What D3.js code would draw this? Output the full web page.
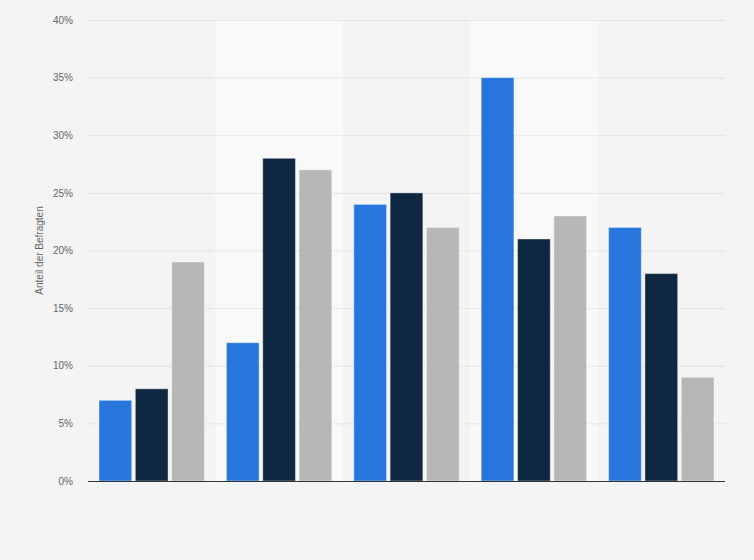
<!DOCTYPE html>
<html>
<head>
<meta charset="utf-8">
<script src="https://cdn.jsdelivr.net/npm/d3@7"></script>
<style>
  body { margin: 0; background: #f4f4f4; }
  svg { display: block; font-family: "Liberation Sans", Arial, sans-serif; }
</style>
</head>
<body>
<svg id="chart"></svg>
<script>
var groups = ["G1", "G2", "G3", "G4", "G5"];
var seriesNames = ["Serie 1", "Serie 2", "Serie 3"];
var series1 = [7, 12, 24, 35, 22];
var series2 = [8, 28, 25, 21, 18];
var series3 = [19, 27, 22, 23, 9];
var yTicks = [0, 5, 10, 15, 20, 25, 30, 35, 40];
var colors = ["#2876dd", "#0f2741", "#b7b7b7"];

var width = 754, height = 560;
var margin = {top: 20, right: 29, bottom: 79, left: 88};
var innerW = width - margin.left - margin.right;
var innerH = height - margin.top - margin.bottom;

var svg = d3.select("#chart").attr("width", width).attr("height", height);
svg.append("rect").attr("width", width).attr("height", height).attr("fill", "#f4f4f4");

var g = svg.append("g").attr("transform", "translate(" + margin.left + "," + margin.top + ")");

var x0 = d3.scaleBand().domain(groups).range([0, innerW]).paddingInner(0).paddingOuter(0);
var x1 = d3.scaleBand().domain(seriesNames).range([11, x0.bandwidth() - 11]).paddingInner(0.1);
var y = d3.scaleLinear().domain([0, 40]).range([innerH, 0]);

// alternating bands
g.selectAll("rect.band")
  .data(groups.filter(function(d, i) { return i % 2 === 1; }))
  .enter().append("rect")
  .attr("class", "band")
  .attr("x", function(d) { return x0(d); })
  .attr("y", 0)
  .attr("width", x0.bandwidth())
  .attr("height", innerH)
  .attr("fill", "#f9f9f9");

// grid
g.selectAll("line.grid")
  .data(yTicks.filter(function(d) { return d > 0; }))
  .enter().append("line")
  .attr("class", "grid")
  .attr("x1", 0).attr("x2", innerW)
  .attr("y1", function(d) { return y(d) + 0.5; })
  .attr("y2", function(d) { return y(d) + 0.5; })
  .attr("stroke", "#d6d6d6")
  .attr("stroke-dasharray", "1,1");

// y axis labels
var yAxis = g.append("g")
  .call(d3.axisLeft(y).tickValues(yTicks).tickSize(0).tickPadding(15)
    .tickFormat(function(d) { return d + "%"; }));
yAxis.select(".domain").remove();
yAxis.selectAll("text").attr("fill", "#666").attr("font-size", "10px");

// bars
var data = groups.map(function(gr, i) {
  return {group: gr, values: [series1[i], series2[i], series3[i]]};
});

var grp = g.selectAll("g.grp").data(data).enter().append("g")
  .attr("transform", function(d) { return "translate(" + x0(d.group) + ",0)"; });

grp.selectAll("rect")
  .data(function(d) { return d.values.map(function(v, j) { return {s: seriesNames[j], v: v, c: colors[j]}; }); })
  .enter().append("rect")
  .attr("x", function(d) { return x1(d.s); })
  .attr("y", function(d) { return y(d.v); })
  .attr("width", x1.bandwidth())
  .attr("height", function(d) { return innerH - y(d.v); })
  .attr("fill", function(d) { return d.c; })
  .attr("stroke", "rgba(255,255,255,0.4)")
  .attr("stroke-width", 1);

// baseline
g.append("line")
  .attr("x1", 0).attr("x2", innerW)
  .attr("y1", innerH + 0.5).attr("y2", innerH + 0.5)
  .attr("stroke", "#333").attr("stroke-width", 1);

// y label
svg.append("text")
  .attr("transform", "translate(43," + (margin.top + innerH / 2) + ") rotate(-90)")
  .attr("text-anchor", "middle")
  .attr("fill", "#666")
  .attr("font-size", "10px")
  .text("Anteil der Befragten");
</script>
</body>
</html>
